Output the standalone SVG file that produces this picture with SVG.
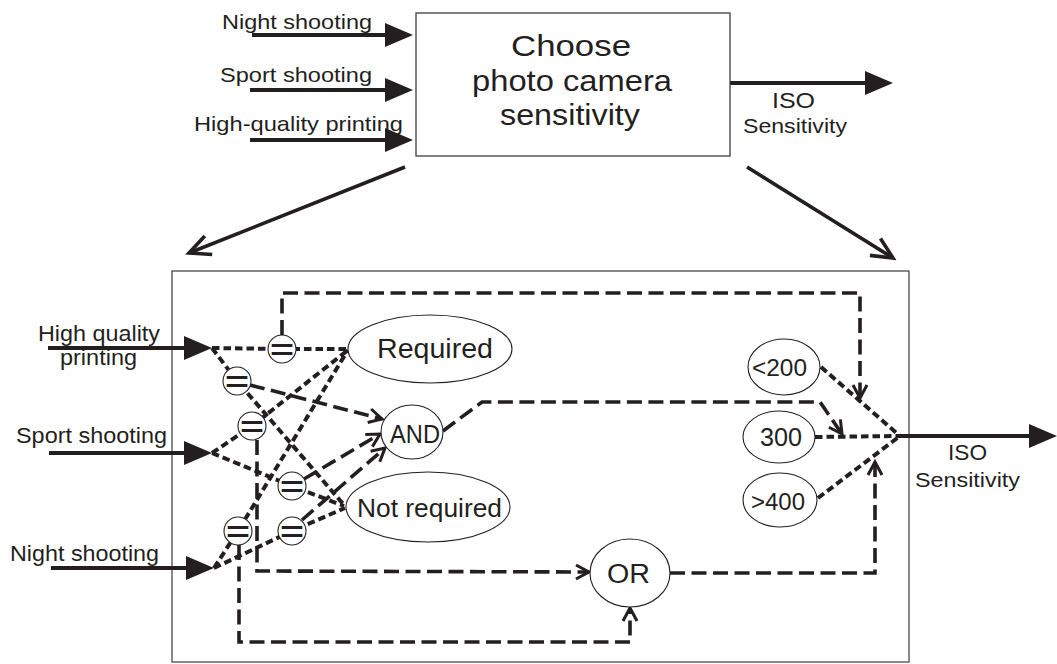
<svg xmlns="http://www.w3.org/2000/svg" width="1057" height="664" viewBox="0 0 1057 664">
  <style>
    text { font-family: "Liberation Sans", Arial, Helvetica, sans-serif; fill: #231f20; }
    .mid { text-anchor: middle; }
    .box { fill: #fff; stroke: #3c3c3c; stroke-width: 1.3; }
    .frame { fill: none; stroke: #4a4a4a; stroke-width: 1.3; }
    .oval { fill: #fff; stroke: #231f20; stroke-width: 1.1; }
    .solid { fill: none; stroke: #231f20; stroke-width: 4.2; }
    .diag { fill: none; stroke: #231f20; stroke-width: 3.6; }
    .dot { fill: none; stroke: #231f20; stroke-width: 4; stroke-dasharray: 7.5 4; }
    .dash { fill: none; stroke: #231f20; stroke-width: 3.6; stroke-dasharray: 15 6.5; }
    .eq circle { fill: #fff; stroke: #231f20; stroke-width: 1.1; }
    .eq text { font-size: 28px; font-weight: bold; text-anchor: middle; dominant-baseline: central; }
  </style>
  <defs>
    <marker id="head" markerUnits="userSpaceOnUse" viewBox="0 0 28 24" markerWidth="28" markerHeight="24" refX="18" refY="12" orient="auto">
      <path d="M0,0 L28,12 L0,24 Z" fill="#231f20"/>
    </marker>
    <marker id="vee" markerUnits="userSpaceOnUse" viewBox="-3 -10 20 20" markerWidth="20" markerHeight="20" refX="13" refY="0" orient="auto">
      <path d="M0,-7 L13,0 L0,7" fill="none" stroke="#231f20" stroke-width="3"/>
    </marker>
    <marker id="bigvee" markerUnits="userSpaceOnUse" viewBox="-3 -14 28 28" markerWidth="28" markerHeight="28" refX="21" refY="0" orient="auto">
      <path d="M0,-10 L21,0 L0,10" fill="none" stroke="#231f20" stroke-width="3.6"/>
    </marker>
  </defs>

  <!-- detail frame (drawn under the connectors) -->
  <g id="detail-frame">
    <rect class="frame" x="172" y="271" width="737" height="391"/>
  </g>

  <g id="connectors">
    <!-- top level: inputs, output, expansion arrows -->
    <line class="solid" x1="252" y1="35" x2="403" y2="35" marker-end="url(#head)"/>
    <line class="solid" x1="250" y1="90" x2="403" y2="90" marker-end="url(#head)"/>
    <line class="solid" x1="250" y1="140" x2="403" y2="140" marker-end="url(#head)"/>
    <line class="solid" x1="730" y1="83" x2="883" y2="83" marker-end="url(#head)"/>
    <line class="diag" x1="405" y1="167" x2="189" y2="253" marker-end="url(#bigvee)"/>
    <line class="diag" x1="747" y1="167" x2="893" y2="258" marker-end="url(#bigvee)"/>

    <!-- detail level: inputs and output -->
    <line class="solid" x1="48" y1="348" x2="202" y2="348" marker-end="url(#head)"/>
    <line class="solid" x1="49" y1="453" x2="202" y2="453" marker-end="url(#head)"/>
    <line class="solid" x1="51" y1="568" x2="204" y2="568" marker-end="url(#head)"/>
    <line class="solid" x1="900" y1="436" x2="1047" y2="436" marker-end="url(#head)"/>

    <!-- comparisons: input through "=" test to Required / Not required -->
    <polyline class="dot" points="212,348 282,349 348,349"/>
    <polyline class="dot" points="212,348 237,381 344,505"/>
    <polyline class="dot" points="212,453 252,426 348,350"/>
    <polyline class="dot" points="212,453 292,486 344,506"/>
    <polyline class="dot" points="214,568 238,531 348,350"/>
    <polyline class="dot" points="214,568 292,531 345,508"/>

    <!-- value choices merging into the output -->
    <line class="dot" x1="821" y1="367" x2="900" y2="436"/>
    <line class="dot" x1="815" y1="437" x2="900" y2="436"/>
    <line class="dot" x1="818" y1="498" x2="900" y2="436"/>

    <!-- control flow -->
    <polyline class="dash" points="282,335 282,293 860,293 860,398" marker-end="url(#vee)"/>
    <line class="dash" x1="250" y1="385" x2="382" y2="419" marker-end="url(#vee)"/>
    <line class="dash" x1="304" y1="479" x2="380" y2="434" marker-end="url(#vee)"/>
    <line class="dash" x1="302" y1="520" x2="385" y2="448" marker-end="url(#vee)"/>
    <polyline class="dash" points="257,440 257,571 589,572" marker-end="url(#vee)"/>
    <polyline class="dash" points="239,545 239,642 630,642 630,608" marker-end="url(#vee)"/>
    <polyline class="dash" points="443,431 482,402 820,402 842,434" marker-end="url(#vee)"/>
    <polyline class="dash" points="670,573 875,573 875,462" marker-end="url(#vee)"/>
  </g>

  <!-- top-level labels -->
  <g id="label-night-top"><text x="222" y="29" font-size="21" textLength="150" lengthAdjust="spacingAndGlyphs">Night shooting</text></g>
  <g id="label-sport-top"><text x="220" y="82" font-size="21" textLength="152" lengthAdjust="spacingAndGlyphs">Sport shooting</text></g>
  <g id="label-print-top"><text x="194" y="131" font-size="21" textLength="209" lengthAdjust="spacingAndGlyphs">High-quality printing</text></g>

  <g id="node-choose">
    <rect class="box" x="416" y="13" width="314" height="143"/>
    <text class="mid" x="571" y="56" font-size="30" textLength="120" lengthAdjust="spacingAndGlyphs">Choose</text>
    <text class="mid" x="572" y="91" font-size="30" textLength="200" lengthAdjust="spacingAndGlyphs">photo camera</text>
    <text class="mid" x="570" y="125" font-size="30" textLength="140" lengthAdjust="spacingAndGlyphs">sensitivity</text>
  </g>

  <g id="label-iso-top">
    <text x="772" y="108" font-size="22" textLength="43" lengthAdjust="spacingAndGlyphs">ISO</text>
    <text x="743" y="133" font-size="21" textLength="104" lengthAdjust="spacingAndGlyphs">Sensitivity</text>
  </g>

  <!-- detail-level labels -->
  <g id="label-print">
    <text x="38" y="341" font-size="22" textLength="122" lengthAdjust="spacingAndGlyphs">High quality</text>
    <text x="60" y="365" font-size="22" textLength="77" lengthAdjust="spacingAndGlyphs">printing</text>
  </g>
  <g id="label-sport"><text x="16" y="443" font-size="22" textLength="151" lengthAdjust="spacingAndGlyphs">Sport shooting</text></g>
  <g id="label-night"><text x="10" y="561" font-size="22" textLength="149" lengthAdjust="spacingAndGlyphs">Night shooting</text></g>
  <g id="label-iso">
    <text x="948" y="460" font-size="22" textLength="39" lengthAdjust="spacingAndGlyphs">ISO</text>
    <text x="915" y="487" font-size="21" textLength="105" lengthAdjust="spacingAndGlyphs">Sensitivity</text>
  </g>

  <!-- equality tests -->
  <g id="eq-1" class="eq"><circle cx="282" cy="349" r="14"/><text x="282" y="349" textLength="24" lengthAdjust="spacingAndGlyphs">=</text></g>
  <g id="eq-2" class="eq"><circle cx="237" cy="381" r="14"/><text x="237" y="381" textLength="24" lengthAdjust="spacingAndGlyphs">=</text></g>
  <g id="eq-3" class="eq"><circle cx="252" cy="426" r="14"/><text x="252" y="426" textLength="24" lengthAdjust="spacingAndGlyphs">=</text></g>
  <g id="eq-4" class="eq"><circle cx="292" cy="486" r="14"/><text x="292" y="486" textLength="24" lengthAdjust="spacingAndGlyphs">=</text></g>
  <g id="eq-5" class="eq"><circle cx="238" cy="531" r="14"/><text x="238" y="531" textLength="24" lengthAdjust="spacingAndGlyphs">=</text></g>
  <g id="eq-6" class="eq"><circle cx="292" cy="531" r="14"/><text x="292" y="531" textLength="24" lengthAdjust="spacingAndGlyphs">=</text></g>

  <!-- states and gates -->
  <g id="node-required">
    <ellipse class="oval" cx="430" cy="349" rx="82" ry="34"/>
    <text x="377" y="358" font-size="28" textLength="116" lengthAdjust="spacingAndGlyphs">Required</text>
  </g>
  <g id="node-and">
    <ellipse class="oval" cx="412" cy="432" rx="31" ry="27"/>
    <text x="390" y="443" font-size="26" textLength="50" lengthAdjust="spacingAndGlyphs">AND</text>
  </g>
  <g id="node-not-required">
    <ellipse class="oval" cx="428" cy="507" rx="82" ry="35"/>
    <text x="357" y="517" font-size="26" textLength="145" lengthAdjust="spacingAndGlyphs">Not required</text>
  </g>
  <g id="node-or">
    <ellipse class="oval" cx="630" cy="573" rx="40" ry="34"/>
    <text x="607" y="583" font-size="27" textLength="43" lengthAdjust="spacingAndGlyphs">OR</text>
  </g>

  <!-- ISO values -->
  <g id="node-lt200">
    <ellipse class="oval" cx="784" cy="367" rx="36" ry="28"/>
    <text x="752" y="376" font-size="24" textLength="55" lengthAdjust="spacingAndGlyphs">&lt;200</text>
  </g>
  <g id="node-300">
    <ellipse class="oval" cx="779" cy="437" rx="36" ry="26"/>
    <text x="760" y="446" font-size="25" textLength="42" lengthAdjust="spacingAndGlyphs">300</text>
  </g>
  <g id="node-gt400">
    <ellipse class="oval" cx="780" cy="500" rx="37" ry="27"/>
    <text x="751" y="510" font-size="24" textLength="54" lengthAdjust="spacingAndGlyphs">&gt;400</text>
  </g>
</svg>
